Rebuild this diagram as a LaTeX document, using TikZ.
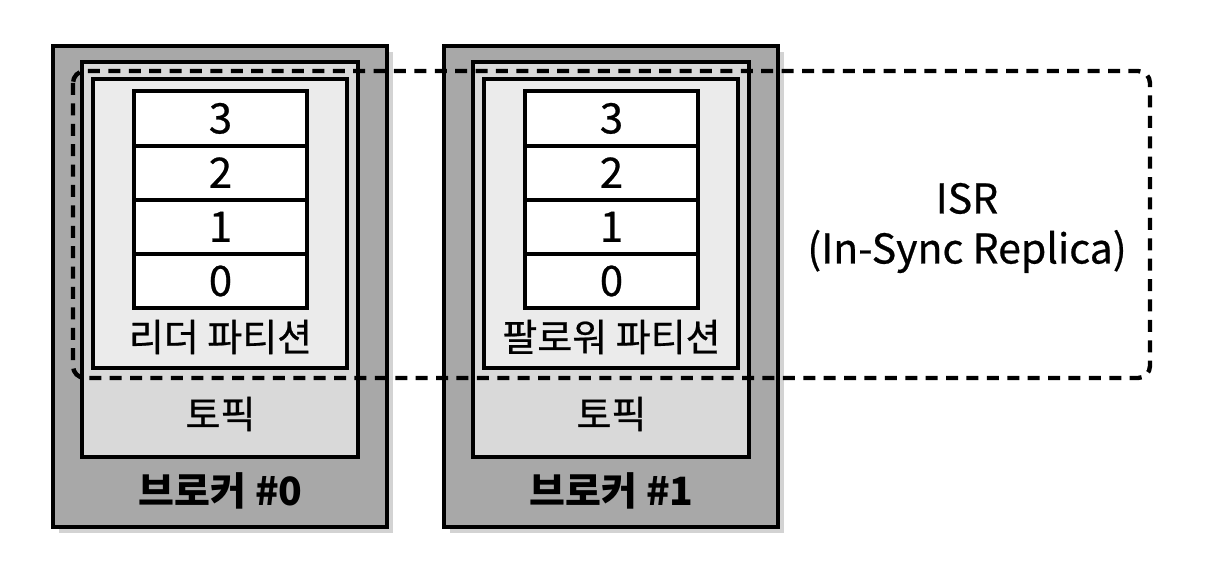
\documentclass[tikz,border=0pt]{standalone}
\usepackage{fontspec}
\setmainfont{Noto Sans CJK KR}
\newfontfamily\medfont[FakeBold=0.6]{Noto Sans CJK KR}
\usepackage{xcolor}
\usetikzlibrary{shadows}

\definecolor{brokergray}{HTML}{A8A8A8}
\definecolor{topicgray}{HTML}{D9D9D9}
\definecolor{partgray}{HTML}{EBEBEB}

\begin{document}
\begin{tikzpicture}[x=0.5pt, y=-0.5pt,
    cell/.style={draw, line width=2pt, fill=white, minimum width=86.5pt,
        minimum height=27.2pt, inner sep=0pt, font=\fontsize{21}{21}\medfont},
    label/.style={inner sep=0pt, font=\fontsize{19}{19}\medfont},
    brokerlabel/.style={inner sep=0pt, font=\fontsize{19.5}{19.5}\selectfont\bfseries}]
    \useasboundingbox (0,0) rectangle (1206,588);

    % Brokers with topic and partition
    \foreach \b/\dx/\part in {0/0/리더 파티션, 1/391/팔로워 파티션} {
        \draw[line width=2.2pt, fill=brokergray,
            drop shadow={shadow xshift=3pt, shadow yshift=-3pt, opacity=0.35}]
            (53+\dx,46) rectangle (387+\dx,527);
        \draw[line width=1.9pt, fill=topicgray] (82+\dx,62) rectangle (358+\dx,457);
        \draw[line width=2pt, fill=partgray] (93+\dx,79) rectangle (347+\dx,368);

        % Offsets 3 to 0
        \foreach \n in {0,...,3}
            \node[cell] (cell\b-\n) at (220.5+\dx, 281-54.2*\n) {\n};

        \node[label] (part\b) at (220.5+\dx,337) {\part};
        \node[label] (topic\b) at (220.5+\dx,414) {토픽};
        \node[brokerlabel] (broker\b) at (220.5+\dx,491) {브로커 \#\b};
    }

    % ISR group
    \draw[line width=2.2pt, dash pattern=on 6pt off 4.2pt, rounded corners=6pt]
        (73,71) rectangle (1150,378);
    \node[align=center, inner sep=0pt, font=\fontsize{20.5}{25}\medfont] (isr) at (967,228)
        {ISR\\(In-Sync Replica)};
\end{tikzpicture}
\end{document}
